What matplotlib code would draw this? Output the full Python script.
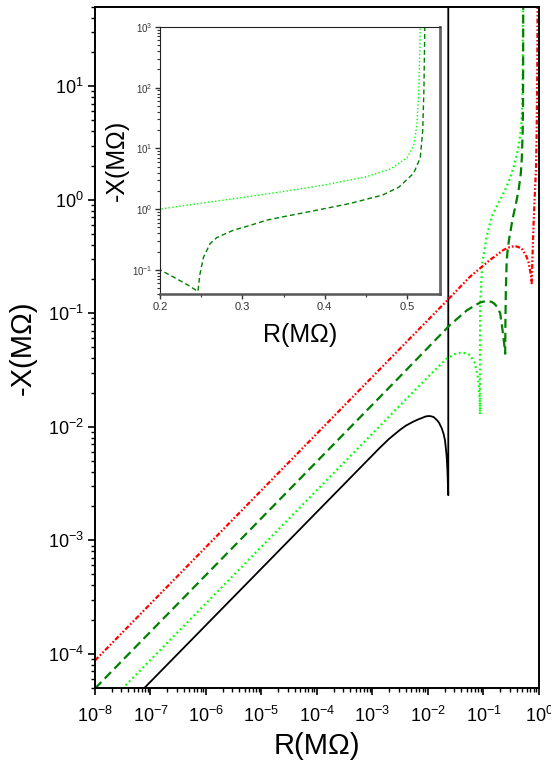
import matplotlib
matplotlib.use('Agg')
import matplotlib.pyplot as plt
from matplotlib.ticker import LogLocator, MultipleLocator, NullFormatter

plt.rcParams['font.family'] = ['Liberation Sans', 'DejaVu Sans']
plt.rcParams['mathtext.fontset'] = 'custom'
plt.rcParams['mathtext.rm'] = 'Liberation Sans'
plt.rcParams['lines.scale_dashes'] = False

# curves: R (MOhm) and -X (MOhm)
r_black = [1e-8, 1.34e-3, 2.0e-3, 3.13e-3, 3.98e-3, 5.43e-3, 6.61e-3, 7.9e-3,
           8.91e-3, 1.01e-2, 1.12e-2, 1.26e-2, 1.44e-2, 1.585e-2, 1.77e-2,
           1.905e-2, 2.02e-2, 2.09e-2, 2.17e-2, 2.24e-2, 2.32e-2, 2.32e-2]
x_black = [1.8e-5, 6.5e-3, 7.85e-3, 9.4e-3, 1.023e-2, 1.11e-2, 1.16e-2, 1.2e-2,
           1.23e-2, 1.245e-2, 1.24e-2, 1.22e-2, 1.15e-2, 1.084e-2, 9.7e-3,
           8.7e-3, 7.66e-3, 6.6e-3, 5.46e-3, 4.17e-3, 2.5e-3, 100]

r_lime = [1e-8, 3.16e-3, 1e-2, 2.16e-2, 3.27e-2, 4.33e-2, 5.71e-2, 7.03e-2,
          8.07e-2, 8.55e-2, 8.65e-2, 8.65e-2, 8.75e-2, 9.5e-2, 0.114, 0.14,
          0.185, 0.2, 0.25, 0.3, 0.35, 0.4, 0.45, 0.48, 0.5, 0.508, 0.512,
          0.514, 0.5155, 0.5165]
x_lime = [2.8e-5, 1.55e-2, 2.75e-2, 3.98e-2, 4.45e-2, 4.5e-2, 4.3e-2, 3.63e-2,
          2.59e-2, 1.78e-2, 1.29e-2, 5.45e-2, 0.122, 0.276, 0.473, 0.71,
          0.933, 1.0, 1.25, 1.55, 1.95, 2.5, 3.4, 4.6, 7.0, 11, 25,
          80, 400, 3000]

r_green = [1e-8, 3.16e-3, 2.49e-2, 5.0e-2, 7.03e-2, 8.9e-2, 0.114, 0.141,
           0.161, 0.18, 0.2, 0.22, 0.235, 0.246, 0.2485, 0.2527, 0.2608, 0.269,
           0.2892, 0.3095, 0.33, 0.35, 0.3905, 0.431, 0.47, 0.49, 0.508, 0.516,
           0.519, 0.5205, 0.5215, 0.522]
x_green = [4.95e-5, 2.79e-2, 7.89e-2, 0.106, 0.1175, 0.125, 0.1285, 0.126,
           0.12, 0.112, 0.1, 0.0715, 0.055, 0.044, 0.085, 0.16, 0.27, 0.34,
           0.45, 0.54, 0.66, 0.75, 0.96, 1.24, 1.7, 2.3, 3.9, 7.0,
           20, 100, 1000, 3000]

r_red = [1e-8, 7.18e-3, 2.17e-2, 5.71e-2, 0.131, 0.2275, 0.29, 0.37, 0.488,
         0.598, 0.65, 0.689, 0.72, 0.738, 0.757, 0.791, 0.847, 0.883, 0.908,
         0.933, 0.944]
x_red = [8.73e-5, 7.4e-2, 0.1285, 0.21, 0.295, 0.361, 0.381, 0.392, 0.374,
         0.315, 0.28, 0.241, 0.21, 0.184, 0.276, 0.542, 1.22, 1.83, 3.85,
         14.8, 56]

fig = plt.figure(figsize=(5.51, 7.64), dpi=100)
ax = fig.add_axes([0.1724, 0.0995, 0.8058, 0.8914])

ax.plot(r_black, x_black, color='black', lw=1.3)
ax.plot(r_lime, x_lime, color='#00ff00', lw=1.6, dashes=(1.3, 2.2))
ax.plot(r_green, x_green, color='#008000', lw=1.6, dashes=(6.5, 3.5))
ax.plot(r_red, x_red, color='#ff0000', lw=1.6,
        dashes=(3.5, 1.5, 1.2, 1.5, 1.2, 1.5))

ax.set_xscale('log')
ax.set_yscale('log')
ax.set_xlim(1e-8, 1)
ax.set_ylim(5e-5, 50)
ax.xaxis.set_major_locator(LogLocator(base=10, numticks=20))
ax.xaxis.set_minor_locator(LogLocator(base=10, subs=range(2, 10), numticks=100))
ax.xaxis.set_minor_formatter(NullFormatter())
ax.yaxis.set_major_locator(LogLocator(base=10, numticks=20))
ax.yaxis.set_minor_locator(LogLocator(base=10, subs=range(2, 10), numticks=100))
ax.yaxis.set_minor_formatter(NullFormatter())
ax.tick_params(which='major', direction='out', length=5, width=1.2,
               labelsize=13, pad=3)
ax.tick_params(axis='x', which='major', pad=8)
ax.tick_params(which='minor', direction='out', length=3, width=1.0)
for s in ax.spines.values():
    s.set_linewidth(1.4)
ax.set_xlabel('R(M\u03a9)', fontsize=21, labelpad=4)
ax.set_ylabel('-X(M\u03a9)', fontsize=21, labelpad=8)

# inset
ins = fig.add_axes([0.2904, 0.6152, 0.5082, 0.3495])
ins.plot(r_lime, x_lime, color='#00ff00', lw=1.0, dashes=(1.0, 1.6))
ins.plot(r_green, x_green, color='#008000', lw=1.0, dashes=(3.5, 2.2))
ins.set_yscale('log')
ins.set_xlim(0.2, 0.54)
ins.set_ylim(0.04, 1000)
ins.xaxis.set_major_locator(MultipleLocator(0.1))
ins.xaxis.set_minor_locator(MultipleLocator(0.05))
ins.yaxis.set_major_locator(LogLocator(base=10, numticks=10))
ins.yaxis.set_minor_locator(LogLocator(base=10, subs=range(2, 10), numticks=100))
ins.yaxis.set_minor_formatter(NullFormatter())
ins.tick_params(which='major', direction='out', length=3.5, width=1.0,
                labelsize=8, colors='#333333', pad=2)
ins.tick_params(which='minor', direction='out', length=2, width=0.8,
                colors='#333333')
ins.tick_params(axis='y', which='major', labelsize=7)
ins.spines['top'].set_color('#222222')
ins.spines['left'].set_color('#222222')
ins.spines['right'].set_color('#666666')
ins.spines['bottom'].set_color('#555555')
ins.spines['right'].set_linewidth(2.0)
ins.spines['bottom'].set_linewidth(1.8)
ins.set_xlabel('R(M\u03a9)', fontsize=18, labelpad=8)
ins.set_ylabel('-X(M\u03a9)', fontsize=18, labelpad=2)

fig.savefig('out.png', dpi=100)
